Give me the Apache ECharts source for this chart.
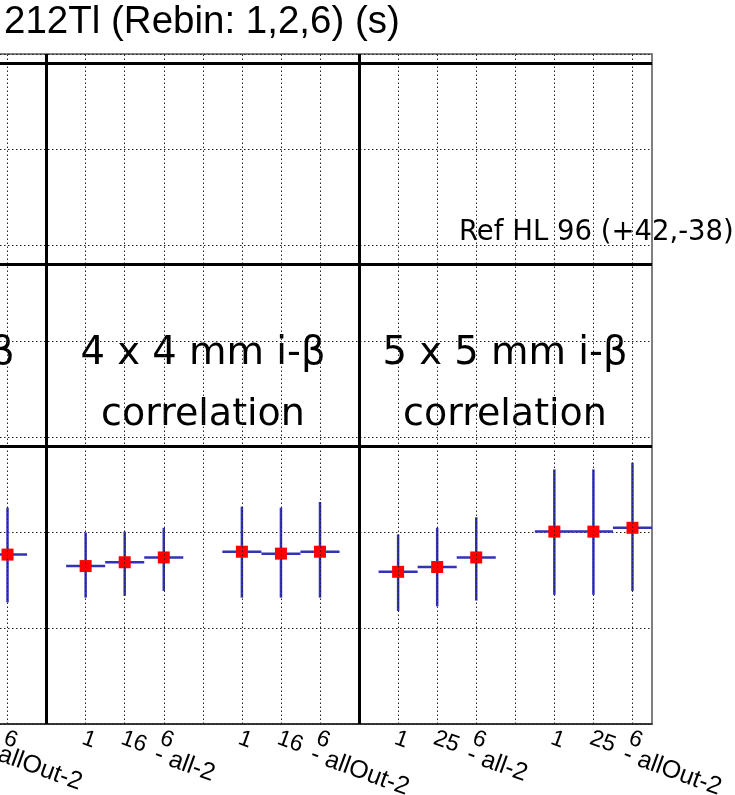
<!DOCTYPE html>
<html>
<head>
<meta charset="utf-8">
<script src="https://cdn.jsdelivr.net/npm/echarts@6/dist/echarts.min.js"></script>
<style>
  html, body { margin: 0; padding: 0; background: #fff; overflow: hidden; }
  /* left frame edge is cut off in the original, so the chart starts a bit off-page */
  #main { width: 747px; height: 795px; margin-left: -12px; }
</style>
</head>
<body>
<div id="main"></div>
<script>
// bin labels along x (one per bin, '' = empty separator bin)
const binLabels = ['6', '', '1', '16', '6', '', '1', '16', '6', '', '1', '25', '6', '', '1', '25', '6'];
// group tag written under the last bin of each group
const groupTags = ['allOut-2', '', '', '', '- all-2', '', '', '', '- allOut-2', '', '', '', '- all-2', '', '', '', '- allOut-2'];

// measured values with error ranges (null = no entry)
const means   = [1.77, null, 1.65, 1.69, 1.74, null, 1.80, 1.78, 1.80, null, 1.59, 1.64, 1.74, null, 2.01, 2.01, 2.05];
const errLow  = [1.27, null, 1.32, 1.34, 1.39, null, 1.32, 1.32, 1.32, null, 1.18, 1.23, 1.29, null, 1.35, 1.35, 1.39];
const errHigh = [2.26, null, 2.00, 2.01, 2.05, null, 2.27, 2.26, 2.32, null, 1.98, 2.05, 2.16, null, 2.66, 2.66, 2.73];

// separator lines
const sepBins = [1, 9];
const sepLevels = [2.9, 4.8, 6.9];

const shift = 12; // page x -> chart x

const cats = binLabels.map((l, i) => 'bin' + i);

const pts = [];
const bars = [];
means.forEach((m, i) => {
  if (m == null) return;
  pts.push([i, m]);
  bars.push([i, errLow[i], errHigh[i], m]);
});

const blue = '#3232b4';
const dotted = { color: '#222', width: 1, type: [1.5, 2.5] };

const markData = [];
cats.forEach(c => {
  markData.push({ xAxis: c, lineStyle: dotted });
});
sepLevels.forEach(v => {
  markData.push({ yAxis: v, lineStyle: { color: '#000', width: 3, type: 'solid' } });
});
sepBins.forEach(b => {
  markData.push({ xAxis: cats[b], lineStyle: { color: '#000', width: 3, type: 'solid' } });
});

function label(txt, x, y, size, align) {
  return {
    type: 'text', x: x + shift, y: y,
    style: { text: txt, fontFamily: 'DejaVu Sans', fontSize: size, fill: '#000', align: align, verticalAlign: 'middle' }
  };
}

var chart = echarts.init(document.getElementById('main'));
var option = {
  animation: false,
  backgroundColor: '#fff',
  title: {
    text: '212Tl (Rebin: 1,2,6) (s)',
    left: 4 + shift,
    top: 3,
    padding: 0,
    textStyle: { fontFamily: 'Liberation Sans', fontSize: 38.5, fontWeight: 'normal', color: '#000' }
  },
  grid: {
    left: 0,
    right: 83,
    top: 54,
    bottom: 71,
    outerBoundsMode: 'none',
    containLabel: false,
    show: true,
    borderColor: '#555',
    borderWidth: 1.5,
    backgroundColor: 'transparent'
  },
  xAxis: {
    type: 'category',
    data: cats,
    boundaryGap: true,
    axisLine: { lineStyle: { color: '#222', width: 1.5 } },
    axisTick: { alignWithLabel: true, inside: true, length: 19, lineStyle: { color: '#000', width: 1 } },
    splitLine: { show: false },
    axisLabel: {
      interval: 0,
      rotate: -20,
      margin: 6,
      align: 'left',
      verticalAlign: 'top',
      formatter: function (v, i) {
        let s = '{n|' + binLabels[i] + '}';
        if (groupTags[i]) s += '\n{s|' + groupTags[i] + '}';
        return s;
      },
      rich: {
        n: { fontFamily: 'Liberation Sans', fontSize: 23, lineHeight: 16, color: '#000' },
        s: { fontFamily: 'Liberation Sans', fontSize: 25, lineHeight: 18, color: '#000' }
      }
    }
  },
  yAxis: {
    type: 'value',
    min: 0,
    max: 7,
    interval: 1,
    axisLine: { show: false },
    axisTick: { show: false },
    axisLabel: { show: false },
    splitLine: { show: true, lineStyle: dotted }
  },
  graphic: [
    label('Ref HL 96 (+42,-38)', 459, 233, 27.5, 'left'),
    label('3 x 3 mm i-β', -108, 354, 38.5, 'center'),
    label('4 x 4 mm i-β', 203, 354, 38.5, 'center'),
    label('correlation', 203, 415, 38, 'center'),
    label('5 x 5 mm i-β', 505, 354, 38.5, 'center'),
    label('correlation', 505, 415, 38, 'center')
  ],
  series: [
    {
      type: 'scatter',
      data: [],
      z: 1,
      markLine: {
        silent: true,
        animation: false,
        symbol: ['none', 'none'],
        label: { show: false },
        data: markData
      }
    },
    {
      type: 'custom',
      z: 3,
      data: bars,
      renderItem: function (params, api) {
        const x = api.value(0);
        const top = api.coord([x, api.value(2)]);
        const bot = api.coord([x, api.value(1)]);
        const mid = api.coord([x, api.value(3)]);
        const half = api.size([1, 0])[0] / 2;
        return {
          type: 'group',
          children: [
            { type: 'line', shape: { x1: top[0], y1: top[1], x2: bot[0], y2: bot[1] }, style: { stroke: blue, lineWidth: 2.5 } },
            { type: 'line', shape: { x1: mid[0] - half, y1: mid[1], x2: mid[0] + half, y2: mid[1] }, style: { stroke: blue, lineWidth: 2.5 } }
          ]
        };
      }
    },
    {
      type: 'scatter',
      z: 4,
      data: pts,
      symbol: 'rect',
      symbolSize: 12,
      itemStyle: { color: '#ff0000', opacity: 1 }
    }
  ]
};
chart.setOption(option);
</script>
</body>
</html>
